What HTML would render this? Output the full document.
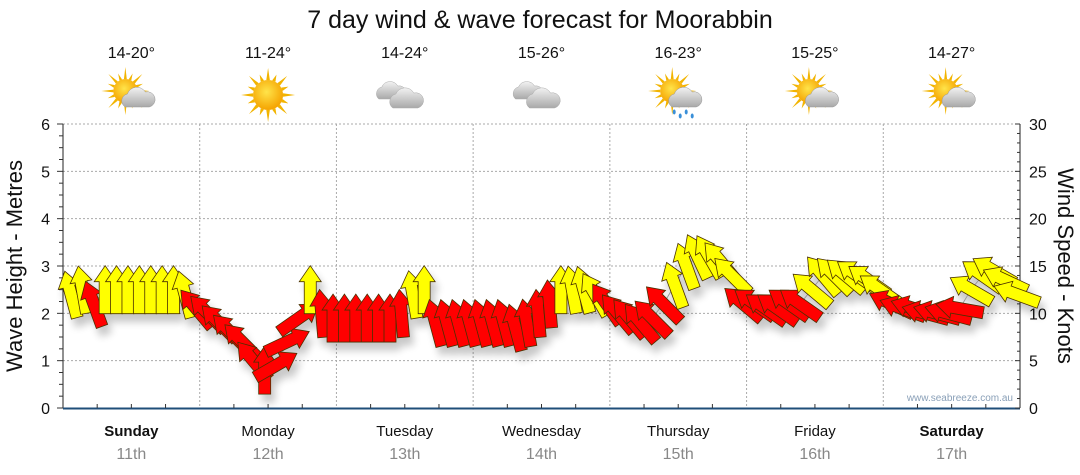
<!DOCTYPE html>
<html><head><meta charset="utf-8"><style>
body{margin:0;background:#fff;}
svg{display:block;font-family:"Liberation Sans",sans-serif;}
</style></head><body>
<svg id="chart" width="1080" height="475" viewBox="0 0 1080 475">
<defs>
<filter id="sh" x="-20%" y="-20%" width="140%" height="160%"><feGaussianBlur in="SourceAlpha" stdDeviation="4"/><feOffset dx="4" dy="8"/><feComponentTransfer><feFuncA type="linear" slope="0.22"/></feComponentTransfer><feMerge><feMergeNode/><feMergeNode in="SourceGraphic"/></feMerge></filter>
<radialGradient id="sunG" cx="45%" cy="40%" r="60%"><stop offset="0" stop-color="#ffe44a"/><stop offset="1" stop-color="#f5a300"/></radialGradient>
<linearGradient id="cloudG" x1="0" y1="0" x2="0" y2="1"><stop offset="0" stop-color="#f2f2f2"/><stop offset="1" stop-color="#a9a9a9"/></linearGradient>
</defs>
<text x="540" y="28" font-size="25" text-anchor="middle" fill="#111">7 day wind &amp; wave forecast for Moorabbin</text>
<g id="grid"></g>
<g id="axes"></g>
<g id="icons"></g>
<g id="marks" filter="url(#sh)"></g>
<text x="1013" y="401" font-size="10" text-anchor="end" fill="#8aa0b8">www.seabreeze.com.au</text>
<text transform="translate(22,266) rotate(-90)" font-size="22" text-anchor="middle" fill="#111">Wave Height - Metres</text>
<text transform="translate(1058,266) rotate(90)" font-size="22" text-anchor="middle" fill="#111">Wind Speed - Knots</text>
</svg>
<script>
const days = ["Sunday","Monday","Tuesday","Wednesday","Thursday","Friday","Saturday"];
const dates = ["11th","12th","13th","14th","15th","16th","17th"];
const temps = ["14-20°","11-24°","14-24°","15-26°","16-23°","15-25°","14-27°"];
const weather = ["partly","sunny","cloudy","cloudy","showers","partly","partly"];
const leftTicks = [0,1,2,3,4,5,6];
const rightTicks = [0,5,10,15,20,25,30];
// wind speed (knots), every 2 hours
const windSpeed = [
 12,12.5,11,12.5,12.5,12.5,12.5,12.5,12.5,12.5,12,10.5,
 10,9,8,7,5,4,4.5,7,9.5,12.5,10,9.5,
 9.5,9.5,9.5,9.5,9.5,10,12,12.5,9,9,9,9,
 9,9,9,8.5,9,10,11,12.5,12.5,12.5,12,11,
 10,9.5,9,9.5,11,13,15,16,16,15.5,14,11,
 11,10.5,10.5,11,11,12.5,14,14,14,14,13.5,12.5,
 11,10.5,10.5,10,10,10,10.5,12.5,14,14.5,13.5,12
];
// arrow pointing direction (deg, 0 = up, negative = left)
const windDir = [
 -15,-10,-20,0,0,0,0,0,0,0,-15,-40,
 -45,-45,-45,-45,-40,0,60,65,55,0,-5,0,
 0,0,0,0,0,-5,-10,0,-15,-15,-15,-15,
 -15,-15,-15,-15,-10,-5,-5,0,-10,-15,-30,-35,
 -40,-40,-40,-45,-45,-20,-20,-25,-30,-40,-45,-50,
 -55,-55,-55,-55,-55,-50,-40,-45,-50,-55,-55,-55,
 -65,-70,-72,-75,-75,-75,-80,-60,-55,-60,-65,-70
];
const NS="http://www.w3.org/2000/svg";
const X0=63,X1=1020,Y0=408,Y1=124;
const dayW=(X1-X0)/7;
const yL=v=>Y0-(Y0-Y1)*v/6;
const yR=v=>Y0-(Y0-Y1)*v/30;
const xI=i=>X0+8+i*dayW/12;
function el(t,a,p){const e=document.createElementNS(NS,t);for(const k in a)e.setAttribute(k,a[k]);p.appendChild(e);return e;}
const grid=document.getElementById('grid'),axes=document.getElementById('axes'),icons=document.getElementById('icons'),marks=document.getElementById('marks');
for(let m=1;m<=6;m++){const l=el('line',{x1:X0,x2:X1,y1:yL(m),y2:yL(m),stroke:'#aaa','stroke-dasharray':'2,2','stroke-width':1},grid);

}
for(let d=1;d<7;d++){const x=X0+d*dayW;const l=el('line',{x1:x,x2:x,y1:Y1,y2:Y0,stroke:'#aaa','stroke-dasharray':'2,2'},grid);

}
el('line',{x1:X0,x2:X0,y1:Y1,y2:Y0,stroke:'#222'},axes);
el('line',{x1:X1,x2:X1,y1:Y1,y2:Y0,stroke:'#222'},axes);
const xa=el('line',{x1:X0,x2:X1,y1:Y0+0.5,y2:Y0+0.5,stroke:'#1f4e79','stroke-width':2},axes);


for(let k=0;k<=24;k++){const y=yL(k/4);el('line',{x1:X0-(k%4?4:6),x2:X0,y1:y,y2:y,stroke:'#333'},axes);}
for(let k=0;k<=30;k++){const y=yR(k);el('line',{x1:X1-(k%5?3:5),x2:X1,y1:y,y2:y,stroke:'#333'},axes);}
for(let k=0;k<=28;k++){const x=X0+k*dayW/4;el('line',{x1:x,x2:x,y1:Y0,y2:Y0-(k%4?4:0),stroke:'#333'},axes);}
leftTicks.forEach(v=>{const t=el('text',{x:X0-13,y:yL(v)+6,'font-size':16,'text-anchor':'end',fill:'#111'},axes);t.textContent=v;

});
rightTicks.forEach(v=>{const t=el('text',{x:X1+9,y:yR(v)+6,'font-size':16,fill:'#111'},axes);t.textContent=v;

});
days.forEach((d,i)=>{const cx=X0+(i+0.5)*dayW;
const t=el('text',{x:cx,y:436,'font-size':15,'text-anchor':'middle',fill:'#111','font-weight':(i==0||i==6)?'bold':'normal'},axes);t.textContent=d;


const t2=el('text',{x:cx,y:459,'font-size':16,'text-anchor':'middle',fill:'#888'},axes);t2.textContent=dates[i];


const t3=el('text',{x:cx,y:58,'font-size':16,'text-anchor':'middle',fill:'#111'},icons);t3.textContent=temps[i];


const g=el('g',{transform:`translate(${cx},95)`},icons);


const w=weather[i];
if(w!=='cloudy'){const sx=w==='sunny'?0:-6,sy=w==='sunny'?0:-4,r=w==='sunny'?15:12;
for(let a=0;a<16;a++){const ang=a*Math.PI/8,L=a%2?r+7:r+12;el('polygon',{points:`${sx+Math.cos(ang-0.12)*r},${sy+Math.sin(ang-0.12)*r} ${sx+Math.cos(ang)*L},${sy+Math.sin(ang)*L} ${sx+Math.cos(ang+0.12)*r},${sy+Math.sin(ang+0.12)*r}`,fill:'#f2b400'},g);}
el('circle',{cx:sx,cy:sy,r:r,fill:'url(#sunG)'},g);}
if(w==='partly'||w==='showers'){el('path',{d:'M-6,12 a7,7 0 0 1 2,-13 a10,10 0 0 1 18,-2 a7,7 0 0 1 4,15 z',fill:'url(#cloudG)',stroke:'#999','stroke-width':0.5},g);}
if(w==='showers'){for(let k=0;k<4;k++)el('ellipse',{cx:-4+k*6,cy:17+(k%2)*4,rx:1.5,ry:2.5,fill:'#3a8fd8'},g);}
if(w==='cloudy'){el('path',{d:'M-26,4 a7,7 0 0 1 3,-12 a9,9 0 0 1 16,-1 a6,6 0 0 1 3,13 z',fill:'url(#cloudG)',stroke:'#aaa','stroke-width':0.5},g);
el('path',{d:'M-12,13 a8,8 0 0 1 3,-14 a10,10 0 0 1 18,-1 a7,7 0 0 1 4,15 z',fill:'url(#cloudG)',stroke:'#aaa','stroke-width':0.5},g);}
});
const pts=windSpeed.map((v,i)=>`${xI(i)},${yR(v)}`).join(' ');
const pl=el('polyline',{points:pts,fill:'none',stroke:'#999','stroke-width':1},marks);


windSpeed.forEach((v,i)=>{
const col=v>=12?'#ffff00':'#ff0000';
const p=el('polygon',{points:'-6,24 -6,-8 -11,-8 0,-24 11,-8 6,-8 6,24',fill:col,stroke:'#4a3000','stroke-width':0.8,'stroke-linejoin':'miter',transform:`translate(${xI(i)},${yR(v)}) rotate(${windDir[i]})`},marks);


});
</script>
</body></html>
